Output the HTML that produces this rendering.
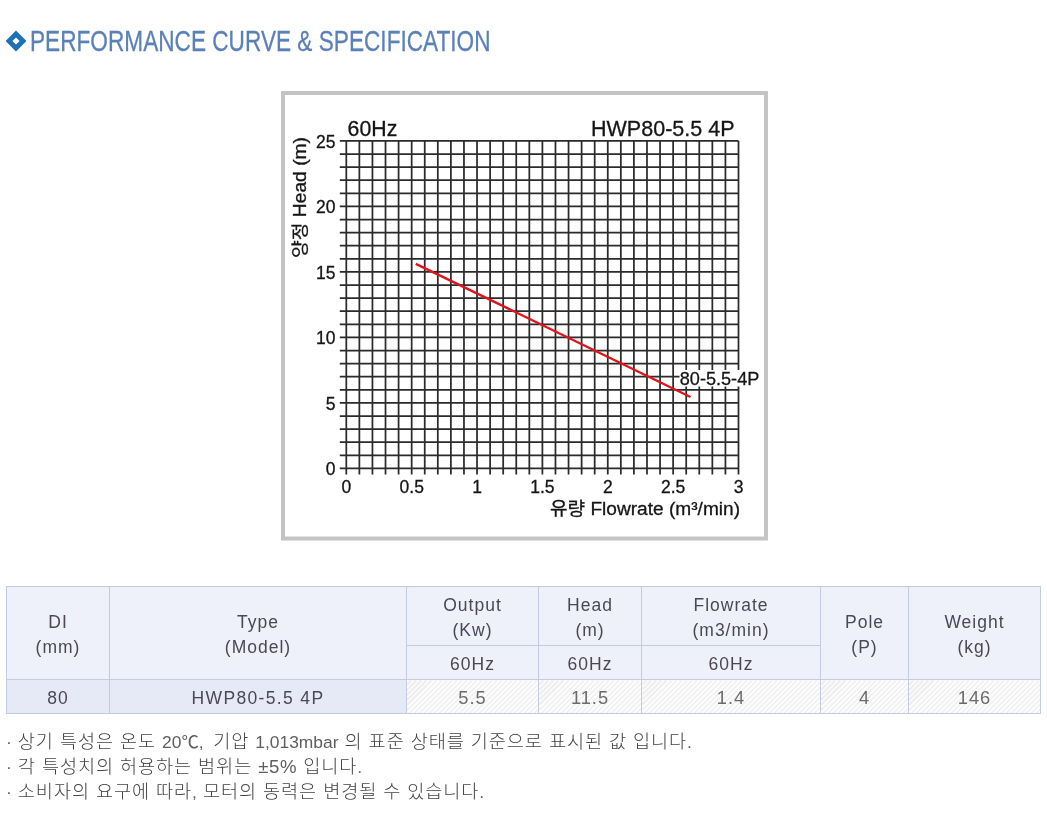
<!DOCTYPE html>
<html lang="ko">
<head>
<meta charset="utf-8">
<title>PERFORMANCE CURVE &amp; SPECIFICATION</title>
<style>
html,body{margin:0;padding:0;background:#fff;}
body{width:1047px;height:819px;position:relative;overflow:hidden;font-family:"Liberation Sans","Noto Sans CJK KR",sans-serif;color:#444;}
.title{position:absolute;left:0;top:0;width:520px;height:70px;}
.title svg{position:absolute;left:5.1px;top:30.35px;}
.title span{position:absolute;left:30.4px;top:24.4px;height:34px;line-height:34px;font-size:30.2px;color:#5b80b8;-webkit-text-stroke:0.3px #5b80b8;white-space:nowrap;transform:scaleX(0.7495);transform-origin:0 50%;}
.chart{position:absolute;left:281px;top:91px;}
.soft{filter:blur(0.5px);}
table.spec{position:absolute;left:6px;top:586px;width:1034px;height:128px;border-collapse:collapse;table-layout:fixed;font-size:17.5px;letter-spacing:1px;color:#4d4658;}
table.spec th,table.spec td{border:1px solid #c3cbe0;padding:3px 0 0 0;text-align:center;vertical-align:middle;font-weight:normal;line-height:24.6px;}
table.spec th{background:#eef1fa;}
table.spec td.k{background:#e6eaf7;}
table.spec td.v{background:repeating-linear-gradient(135deg,#fff 0,#fff 2.1px,#ececec 2.1px,#ececec 3.54px);color:#6c6c6c;font-size:18.3px;}
.note{position:absolute;left:6px;height:26px;font-size:18.6px;font-weight:300;letter-spacing:0.9px;line-height:26px;color:#444;white-space:nowrap;}
.note i{font-style:normal;font-size:17.4px;font-weight:normal;letter-spacing:0;color:#5e5e5e;}
.n1{top:729.3px;} .n2{top:753.95px;} .n3{top:778.6px;}
</style>
</head>
<body>
<div class="title"><svg width="22" height="22" viewBox="0 0 22 22"><path d="M11 0.6 L21.4 11 L11 21.4 L0.6 11 Z M11 7.4 L7.4 11 L11 14.6 L14.6 11 Z" fill="#1c6fb8" fill-rule="evenodd"/></svg><span>PERFORMANCE CURVE &amp; SPECIFICATION</span></div>
<svg class="chart" width="487" height="450" viewBox="0 0 487 450">
<rect x="2" y="2" width="483" height="445.5" fill="#fff" stroke="#c4c4c4" stroke-width="4"/>
<g class="soft">
<g stroke="#2b2b2b" stroke-width="1.75">
<line x1="65.30" y1="49.90" x2="65.30" y2="383.40"/>
<line x1="78.37" y1="49.90" x2="78.37" y2="383.40"/>
<line x1="91.45" y1="49.90" x2="91.45" y2="383.40"/>
<line x1="104.52" y1="49.90" x2="104.52" y2="383.40"/>
<line x1="117.59" y1="49.90" x2="117.59" y2="383.40"/>
<line x1="130.67" y1="49.90" x2="130.67" y2="383.40"/>
<line x1="143.74" y1="49.90" x2="143.74" y2="383.40"/>
<line x1="156.81" y1="49.90" x2="156.81" y2="383.40"/>
<line x1="169.89" y1="49.90" x2="169.89" y2="383.40"/>
<line x1="182.96" y1="49.90" x2="182.96" y2="383.40"/>
<line x1="196.03" y1="49.90" x2="196.03" y2="383.40"/>
<line x1="209.11" y1="49.90" x2="209.11" y2="383.40"/>
<line x1="222.18" y1="49.90" x2="222.18" y2="383.40"/>
<line x1="235.25" y1="49.90" x2="235.25" y2="383.40"/>
<line x1="248.33" y1="49.90" x2="248.33" y2="383.40"/>
<line x1="261.40" y1="49.90" x2="261.40" y2="383.40"/>
<line x1="274.47" y1="49.90" x2="274.47" y2="383.40"/>
<line x1="287.55" y1="49.90" x2="287.55" y2="383.40"/>
<line x1="300.62" y1="49.90" x2="300.62" y2="383.40"/>
<line x1="313.69" y1="49.90" x2="313.69" y2="383.40"/>
<line x1="326.77" y1="49.90" x2="326.77" y2="383.40"/>
<line x1="339.84" y1="49.90" x2="339.84" y2="383.40"/>
<line x1="352.91" y1="49.90" x2="352.91" y2="383.40"/>
<line x1="365.99" y1="49.90" x2="365.99" y2="383.40"/>
<line x1="379.06" y1="49.90" x2="379.06" y2="383.40"/>
<line x1="392.13" y1="49.90" x2="392.13" y2="383.40"/>
<line x1="405.21" y1="49.90" x2="405.21" y2="383.40"/>
<line x1="418.28" y1="49.90" x2="418.28" y2="383.40"/>
<line x1="431.35" y1="49.90" x2="431.35" y2="383.40"/>
<line x1="444.43" y1="49.90" x2="444.43" y2="383.40"/>
<line x1="457.50" y1="49.90" x2="457.50" y2="383.40"/>
<line x1="58.80" y1="49.90" x2="457.50" y2="49.90"/>
<line x1="58.80" y1="63.00" x2="457.50" y2="63.00"/>
<line x1="58.80" y1="76.10" x2="457.50" y2="76.10"/>
<line x1="58.80" y1="89.20" x2="457.50" y2="89.20"/>
<line x1="58.80" y1="102.30" x2="457.50" y2="102.30"/>
<line x1="58.80" y1="115.40" x2="457.50" y2="115.40"/>
<line x1="58.80" y1="128.50" x2="457.50" y2="128.50"/>
<line x1="58.80" y1="141.60" x2="457.50" y2="141.60"/>
<line x1="58.80" y1="154.70" x2="457.50" y2="154.70"/>
<line x1="58.80" y1="167.80" x2="457.50" y2="167.80"/>
<line x1="58.80" y1="180.90" x2="457.50" y2="180.90"/>
<line x1="58.80" y1="194.00" x2="457.50" y2="194.00"/>
<line x1="58.80" y1="207.10" x2="457.50" y2="207.10"/>
<line x1="58.80" y1="220.20" x2="457.50" y2="220.20"/>
<line x1="58.80" y1="233.30" x2="457.50" y2="233.30"/>
<line x1="58.80" y1="246.40" x2="457.50" y2="246.40"/>
<line x1="58.80" y1="259.50" x2="457.50" y2="259.50"/>
<line x1="58.80" y1="272.60" x2="457.50" y2="272.60"/>
<line x1="58.80" y1="285.70" x2="457.50" y2="285.70"/>
<line x1="58.80" y1="298.80" x2="457.50" y2="298.80"/>
<line x1="58.80" y1="311.90" x2="457.50" y2="311.90"/>
<line x1="58.80" y1="325.00" x2="457.50" y2="325.00"/>
<line x1="58.80" y1="338.10" x2="457.50" y2="338.10"/>
<line x1="58.80" y1="351.20" x2="457.50" y2="351.20"/>
<line x1="58.80" y1="364.30" x2="457.50" y2="364.30"/>
<line x1="58.80" y1="377.40" x2="457.50" y2="377.40"/>
</g>
<rect x="398.5" y="279" width="82" height="16.5" fill="#fff"/>
<line x1="134.8" y1="172.8" x2="409.5" y2="306" stroke="#e0141c" stroke-width="2.4"/>
<g font-family="'Liberation Sans','Noto Sans CJK KR',sans-serif" font-size="17.5" fill="#151515" stroke="#151515" stroke-width="0.3">
<text x="54.5" y="384.2" text-anchor="end">0</text>
<text x="54.5" y="318.7" text-anchor="end">5</text>
<text x="54.5" y="253.2" text-anchor="end">10</text>
<text x="54.5" y="187.7" text-anchor="end">15</text>
<text x="54.5" y="122.2" text-anchor="end">20</text>
<text x="54.5" y="56.7" text-anchor="end">25</text>
<text x="65.3" y="401.8" text-anchor="middle">0</text>
<text x="130.7" y="401.8" text-anchor="middle">0.5</text>
<text x="196.0" y="401.8" text-anchor="middle">1</text>
<text x="261.4" y="401.8" text-anchor="middle">1.5</text>
<text x="326.8" y="401.8" text-anchor="middle">2</text>
<text x="392.1" y="401.8" text-anchor="middle">2.5</text>
<text x="457.5" y="401.8" text-anchor="middle">3</text>

<text x="66.6" y="45.3" font-size="21.6" textLength="49.7" lengthAdjust="spacingAndGlyphs">60Hz</text>
<text x="310" y="45.3" font-size="21.8" textLength="143.5" lengthAdjust="spacingAndGlyphs">HWP80-5.5 4P</text>
<text x="398.8" y="293.6" font-size="18.5" textLength="79.5" lengthAdjust="spacingAndGlyphs">80-5.5-4P</text>
<text x="269" y="424" font-size="18" textLength="190" lengthAdjust="spacingAndGlyphs">유량 Flowrate (m³/min)</text>
<text transform="translate(25.2,167) rotate(-90)" font-size="17.5" textLength="121" lengthAdjust="spacingAndGlyphs">양정 Head (m)</text>
</g>
</g>
</svg>
<table class="spec">
<colgroup><col style="width:103px"><col style="width:297px"><col style="width:132px"><col style="width:103px"><col style="width:179px"><col style="width:88px"><col style="width:132px"></colgroup>
<tr style="height:59px"><th rowspan="2">DI<br>(mm)</th><th rowspan="2">Type<br>(Model)</th><th>Output<br>(Kw)</th><th>Head<br>(m)</th><th>Flowrate<br>(m3/min)</th><th rowspan="2">Pole<br>(P)</th><th rowspan="2">Weight<br>(kg)</th></tr>
<tr style="height:34px"><th>60Hz</th><th>60Hz</th><th>60Hz</th></tr>
<tr style="height:34px"><td class="k">80</td><td class="k" style="letter-spacing:1.35px">HWP80-5.5 4P</td><td class="v">5.5</td><td class="v">11.5</td><td class="v">1.4</td><td class="v">4</td><td class="v">146</td></tr>
</table>
<div class="note n1"><i>·</i> 상기 특성은 온도 <i style="margin-right:3.5px">20℃,</i> 기압 <i>1,013mbar</i> 의 표준 상태를 기준으로 표시된 값 입니다<i>.</i></div>
<div class="note n2"><i>·</i> 각 특성치의 허용하는 범위는 <i style="font-size:18.6px;letter-spacing:0.6px">±5%</i> 입니다<i>.</i></div>
<div class="note n3"><i>·</i> 소비자의 요구에 따라<i>,</i> 모터의 동력은 변경될 수 있습니다<i>.</i></div>
</body>
</html>
